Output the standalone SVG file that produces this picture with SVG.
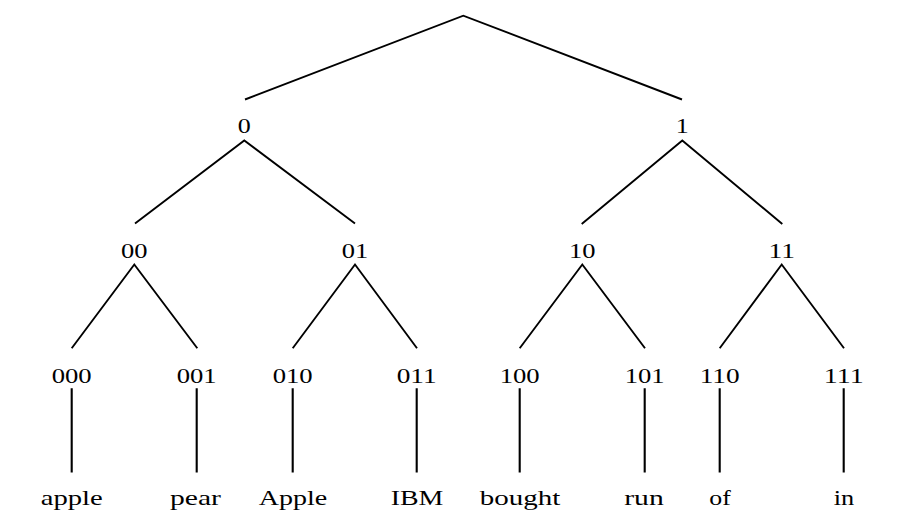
<svg xmlns="http://www.w3.org/2000/svg" width="917" height="525" viewBox="0 0 917 525">
<style>
.t text{font-family:'Liberation Serif','Times New Roman',serif;font-size:21.5px;fill:#000;text-anchor:middle}
.e{stroke:#000;stroke-width:1.9;fill:none;stroke-linecap:butt}
.v{stroke:#000;stroke-width:2.1;fill:none}
</style>
<rect width="917" height="525" fill="#fff"/>
<g id="connectors">
<path class="e" d="M245,99.5 L463.3,15.7 L682,99.5"/>
<path class="e" d="M135,223.5 L244.3,140.5 L355,223.5"/>
<path class="e" d="M581.7,224 L682.3,140.5 L782.3,224"/>
<path class="e" d="M71.7,348.3 L134.3,264.5 L197.3,348.3"/>
<path class="e" d="M292.7,348.3 L355,264.5 L417,348.3"/>
<path class="e" d="M519.7,348.3 L582.3,264.5 L645,348.3"/>
<path class="e" d="M719.7,348.3 L781.7,264.5 L844,348.3"/>
<path class="v" d="M71.7,388.3V472.5M196.7,388.3V472.5M292.7,388.3V472.5M416.7,388.3V472.5M519.7,388.3V472.5M644.7,388.3V472.5M719.7,388.3V472.5M843.7,388.3V472.5"/>
</g>
<g class="t">
<g id="node-root"></g>
<g id="node-0"><text x="244.3" y="133.3" textLength="13" lengthAdjust="spacingAndGlyphs">0</text></g>
<g id="node-1"><text x="682.3" y="133.3" textLength="13" lengthAdjust="spacingAndGlyphs">1</text></g>
<g id="node-00"><text x="134.3" y="258.3" textLength="26.5" lengthAdjust="spacingAndGlyphs">00</text></g>
<g id="node-01"><text x="355" y="258.3" textLength="26.5" lengthAdjust="spacingAndGlyphs">01</text></g>
<g id="node-10"><text x="582.3" y="258.3" textLength="26.5" lengthAdjust="spacingAndGlyphs">10</text></g>
<g id="node-11"><text x="781.7" y="258.3" textLength="26.5" lengthAdjust="spacingAndGlyphs">11</text></g>
<g id="node-000"><text x="71.7" y="382.5" textLength="40" lengthAdjust="spacingAndGlyphs">000</text></g>
<g id="node-001"><text x="196.7" y="382.5" textLength="40" lengthAdjust="spacingAndGlyphs">001</text></g>
<g id="node-010"><text x="292.7" y="382.5" textLength="40" lengthAdjust="spacingAndGlyphs">010</text></g>
<g id="node-011"><text x="416.7" y="382.5" textLength="40" lengthAdjust="spacingAndGlyphs">011</text></g>
<g id="node-100"><text x="519.7" y="382.5" textLength="40" lengthAdjust="spacingAndGlyphs">100</text></g>
<g id="node-101"><text x="644.7" y="382.5" textLength="40" lengthAdjust="spacingAndGlyphs">101</text></g>
<g id="node-110"><text x="719.7" y="382.5" textLength="40" lengthAdjust="spacingAndGlyphs">110</text></g>
<g id="node-111"><text x="843.7" y="382.5" textLength="40" lengthAdjust="spacingAndGlyphs">111</text></g>
<g id="leaf-apple"><text x="71.7" y="505" textLength="62" lengthAdjust="spacingAndGlyphs">apple</text></g>
<g id="leaf-pear"><text x="195.5" y="505" textLength="51" lengthAdjust="spacingAndGlyphs">pear</text></g>
<g id="leaf-Apple"><text x="293" y="505" textLength="68.5" lengthAdjust="spacingAndGlyphs">Apple</text></g>
<g id="leaf-IBM"><text x="417" y="505" textLength="52.7" lengthAdjust="spacingAndGlyphs">IBM</text></g>
<g id="leaf-bought"><text x="520" y="505" textLength="80.5" lengthAdjust="spacingAndGlyphs">bought</text></g>
<g id="leaf-run"><text x="644" y="505" textLength="39.5" lengthAdjust="spacingAndGlyphs">run</text></g>
<g id="leaf-of"><text x="720" y="505" textLength="21.5" lengthAdjust="spacingAndGlyphs">of</text></g>
<g id="leaf-in"><text x="844" y="505" textLength="20.5" lengthAdjust="spacingAndGlyphs">in</text></g>
</g>
</svg>
